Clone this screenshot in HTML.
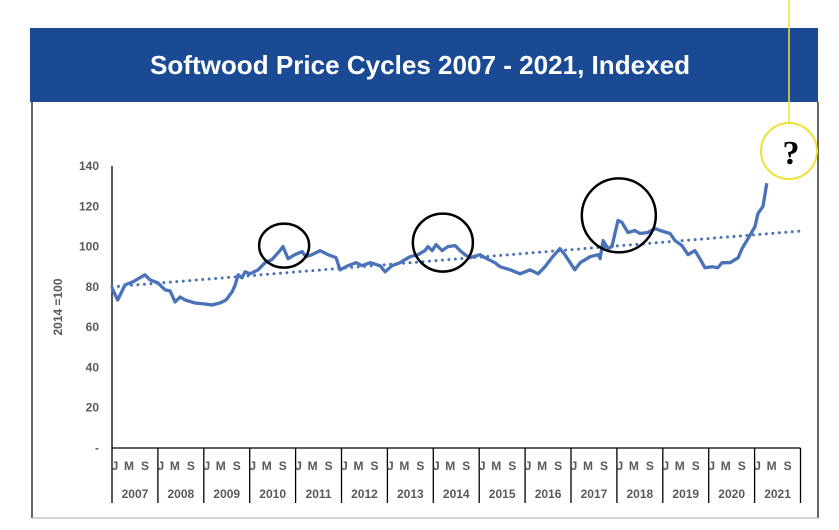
<!DOCTYPE html>
<html><head><meta charset="utf-8"><style>
body{margin:0;background:#fff;}
svg{display:block;font-family:"Liberation Sans",sans-serif;}
</style></head><body>
<svg id="chart" width="839" height="530" viewBox="0 0 839 530" xmlns="http://www.w3.org/2000/svg">
<rect x="30" y="28" width="788" height="74" fill="#1a4a94"/>
<text x="420" y="74" text-anchor="middle" fill="#fff" font-size="26" font-weight="bold" textLength="540" lengthAdjust="spacingAndGlyphs">Softwood Price Cycles 2007 - 2021, Indexed</text>
<line x1="32" y1="102" x2="32" y2="518" stroke="#000" stroke-width="1.2"/>
<line x1="818" y1="102" x2="818" y2="518" stroke="#000" stroke-width="1.2"/>
<line x1="32" y1="518" x2="818" y2="518" stroke="#aaa" stroke-width="1"/>
<text transform="translate(62,307) rotate(-90)" text-anchor="middle" font-size="12" font-weight="bold" fill="#595959">2014 =100</text>
<g id="yticks"></g>
<g id="xaxis"></g>
<g id="series"></g>
<g id="marks"></g>
<line x1="789" y1="0" x2="789" y2="123" stroke="#f0e030" stroke-width="1.5"/>
<circle cx="789" cy="151" r="28" fill="#fff" stroke="#f0e030" stroke-width="2"/>
<text x="791" y="164" text-anchor="middle" font-family="Liberation Serif,serif" font-weight="bold" font-size="34" fill="#000">?</text>
</svg>
<script>
const yTicks=[0,20,40,60,80,100,120,140];
const yTickLabels=["-","20","40","60","80","100","120","140"];
const years=["2007","2008","2009","2010","2011","2012","2013","2014","2015","2016","2017","2018","2019","2020","2021"];
const monthLetters=["J","M","S"];
const monthIdx=[0,1.5,3.4,5.5,8.6,9.9,12,13.9,15.2,16.5,17.8,19.1,21.7,24.3,26.1,28.2,29.8,31.4,32.2,33,34,34.8,36.1,38.2,40,41.8,43.9,44.7,46,47.8,49.7,50.7,52.3,54.4,56.5,58.6,59.6,61.7,63.8,65.4,67.5,70.1,71.4,73.2,75.3,77.9,80,81.8,82.6,83.7,84.7,86.3,87.8,89.7,91,92.3,93.6,96.2,97.5,100.1,101.4,104.1,106.7,109.3,111.4,113.2,115,117.1,118.4,121,122.4,125,127.1,127.6,128.4,129.7,130.7,132.3,133.3,134.9,136.7,138,140.1,142,143.3,145.9,147.2,149,150.6,152.4,153.7,155,156.9,158.4,159.5,161.6,163.7,164.7,166.3,168.1,168.9,170.2,171.2];
const priceIndex=[79.5,73.5,81,82.5,86,83.5,82,78.5,78,72.5,75,73.5,72,71.5,71,72,73.5,77.5,81,86,84.5,87.5,86.5,88.5,92,93.5,98,100,94,96,97.5,95,96,98,96,94.5,88.5,90.5,92,90.5,92,90.5,87.5,90.5,92,95,96,98,100,98,101,98,100,100.5,98,96,94.5,96,94.5,92,90,88.5,86.5,88.5,86.5,90,94.5,99,96,88.5,92,95,96,94,103,99,100,113,112,107,108,106.5,107,109,108,106.5,103,100.5,96,98,94,89.5,90,89.5,92,92,94.5,99,104,110,116.5,120,131.5];
const trendMonths=[0,180];
const trendValues=[80,107.7];
const highlightMonths=[45,86.5,132.5];
const highlightValues=[100.5,102,115.5];
const highlightRx=[25,30,37];
const highlightRy=[22,29,37];

const NS="http://www.w3.org/2000/svg";
const x0=112, yrW=45.9, yBase=448, yPer=2.014;
const xs=m=>x0+m*yrW/12;
const ys=v=>yBase-v*yPer;
function mk(t,a,p){const e=document.createElementNS(NS,t);for(const k in a)e.setAttribute(k,a[k]);p.appendChild(e);return e;}

const yg=document.getElementById('yticks');
yTicks.forEach((v,i)=>{
 const t=mk('text',{x:99,y:ys(v)+4,'text-anchor':'end','font-size':12,'font-weight':'bold',fill:'#595959'},yg);
 
 
 t.textContent=yTickLabels[i];
});
const xa=document.getElementById('xaxis');
const ax=mk('line',{x1:x0,y1:ys(140),x2:x0,y2:yBase+55,stroke:'#000','stroke-width':1.3},xa);


const xl=mk('line',{x1:x0,y1:yBase,x2:x0+years.length*yrW,y2:yBase,stroke:'#000','stroke-width':1.3},xa);


const letterOffsets=[3,17,33];
years.forEach((y,i)=>{
 const xe=x0+(i+1)*yrW;
 const d=mk('line',{x1:xe,y1:yBase,x2:xe,y2:yBase+55,stroke:'#000','stroke-width':1.3},xa);
 
 
 const xm=x0+i*yrW;
 monthLetters.forEach((L,j)=>{
  const mo=mk('text',{x:xm+letterOffsets[j],y:yBase+22,'text-anchor':'middle','font-size':12,'font-weight':'bold',fill:'#595959'},xa);
  
  
  mo.textContent=L;
 });
 const yt=mk('text',{x:xm+yrW/2,y:yBase+50,'text-anchor':'middle','font-size':12,'font-weight':'bold',fill:'#595959'},xa);
 
 
 yt.textContent=y;
});
const sg=document.getElementById('series');
const tr=mk('line',{x1:xs(trendMonths[0]),y1:ys(trendValues[0]),x2:xs(trendMonths[1]),y2:ys(trendValues[1]),stroke:'#4a72b8','stroke-width':3,'stroke-dasharray':'0 6.5','stroke-linecap':'round'},sg);


const pts=monthIdx.map((m,i)=>xs(m).toFixed(1)+','+ys(priceIndex[i]).toFixed(1)).join(' ');
const pl=mk('polyline',{points:pts,fill:'none',stroke:'#4a72b8','stroke-width':3.3,'stroke-linejoin':'round'},sg);


const mg=document.getElementById('marks');
highlightMonths.forEach((m,i)=>{
 const c=mk('ellipse',{cx:xs(m),cy:ys(highlightValues[i]),rx:highlightRx[i],ry:highlightRy[i],fill:'none',stroke:'#000','stroke-width':2.5},mg);
 
 
});
</script>
</body></html>
